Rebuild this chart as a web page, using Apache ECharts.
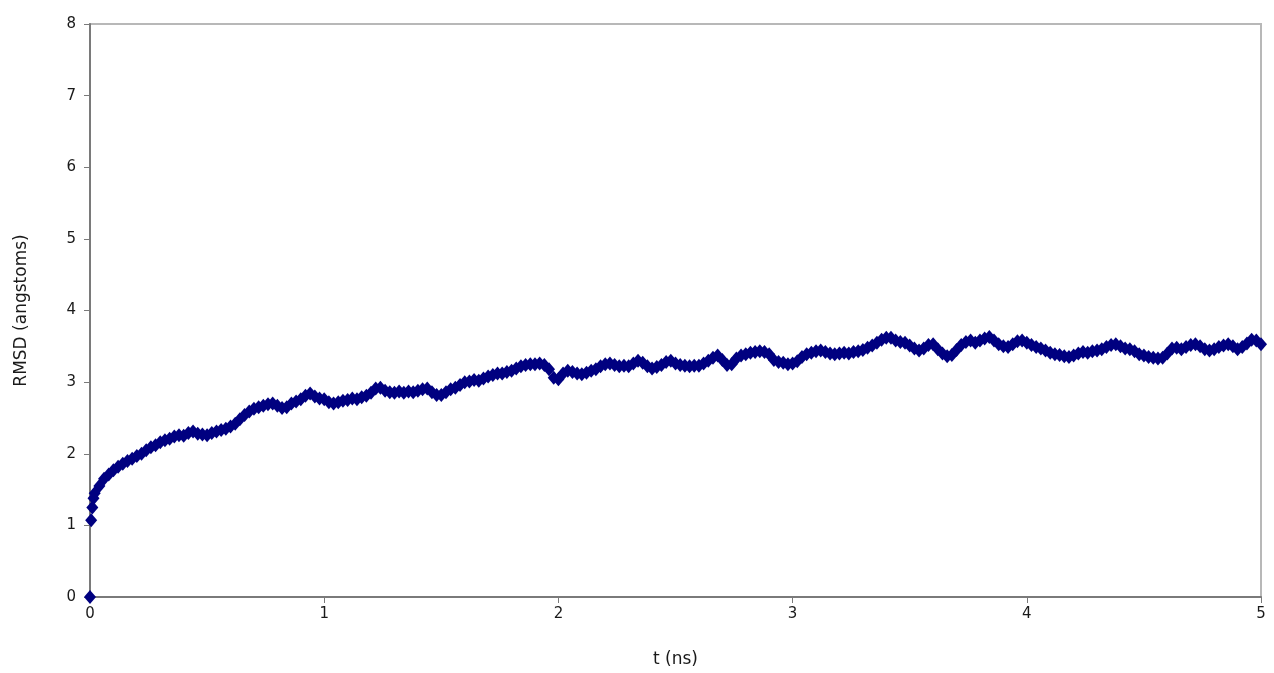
<!DOCTYPE html>
<html>
<head>
<meta charset="utf-8">
<script src="https://cdn.jsdelivr.net/npm/echarts@6/dist/echarts.min.js"></script>
<style>html,body{margin:0;padding:0;background:#fff;}#c{width:1274px;height:673px;}</style>
</head>
<body>
<div id="c"></div>
<script>
// early samples (ns, angstroms)
const earlyTimes = [0, 0.005, 0.01, 0.015];
const earlyRmsd = [0, 1.07, 1.25, 1.38];
// main samples every 0.02 ns from 0.02 to 5.00
const mainStart = 0.02;
const mainStep = 0.02;
const mainRmsd = [
  1.45,1.55,1.65,1.71,1.77,1.82,1.86,1.90,1.93,1.97,
  2.00,2.05,2.09,2.12,2.16,2.19,2.21,2.24,2.26,2.25,
  2.29,2.31,2.28,2.27,2.26,2.29,2.31,2.33,2.35,2.38,
  2.42,2.48,2.54,2.59,2.63,2.65,2.67,2.69,2.70,2.67,
  2.64,2.65,2.70,2.73,2.76,2.81,2.84,2.80,2.77,2.76,
  2.72,2.70,2.72,2.74,2.75,2.77,2.76,2.79,2.81,2.85,
  2.91,2.92,2.88,2.86,2.85,2.87,2.85,2.87,2.86,2.88,
  2.90,2.91,2.86,2.82,2.82,2.86,2.90,2.92,2.96,3.00,
  3.01,3.03,3.02,3.05,3.08,3.10,3.12,3.12,3.14,3.16,
  3.19,3.22,3.24,3.25,3.25,3.26,3.24,3.18,3.06,3.04,
  3.12,3.16,3.14,3.12,3.11,3.13,3.16,3.18,3.22,3.25,
  3.26,3.24,3.22,3.23,3.22,3.26,3.30,3.27,3.22,3.19,
  3.21,3.24,3.28,3.30,3.26,3.24,3.23,3.22,3.23,3.23,
  3.26,3.30,3.34,3.37,3.31,3.24,3.25,3.33,3.37,3.39,
  3.41,3.42,3.43,3.42,3.39,3.31,3.28,3.27,3.25,3.26,
  3.29,3.35,3.39,3.41,3.43,3.44,3.42,3.40,3.39,3.40,
  3.41,3.40,3.42,3.43,3.45,3.48,3.51,3.55,3.59,3.62,
  3.62,3.58,3.56,3.55,3.51,3.47,3.44,3.47,3.52,3.53,
  3.46,3.40,3.36,3.38,3.45,3.52,3.56,3.58,3.55,3.58,
  3.61,3.63,3.58,3.53,3.50,3.49,3.53,3.57,3.58,3.55,
  3.52,3.49,3.47,3.44,3.41,3.39,3.38,3.36,3.35,3.37,
  3.40,3.42,3.41,3.43,3.44,3.46,3.49,3.52,3.53,3.50,
  3.47,3.46,3.43,3.39,3.37,3.35,3.34,3.33,3.34,3.40,
  3.47,3.48,3.46,3.49,3.52,3.53,3.50,3.46,3.44,3.46,
  3.49,3.51,3.53,3.50,3.46,3.49,3.54,3.59,3.58,3.53
];
const xTicks = [0, 1, 2, 3, 4, 5];
const yTicks = [0, 1, 2, 3, 4, 5, 6, 7, 8];

const points = [];
earlyTimes.forEach((t, i) => points.push([t, earlyRmsd[i]]));
mainRmsd.forEach((v, i) => points.push([+(mainStart + i * mainStep).toFixed(3), v]));

const chart = echarts.init(document.getElementById('c'));
const txt = '#1a1a1a';
chart.setOption({
  animation: false,
  backgroundColor: '#ffffff',
  grid: { left: 90, right: 13, top: 24, bottom: 74, show: true, borderColor: '#b8b8b8', borderWidth: 2, backgroundColor: '#ffffff' },
  xAxis: {
    type: 'value', min: xTicks[0], max: xTicks[xTicks.length - 1], interval: 1,
    name: 't (ns)', nameLocation: 'middle', nameGap: 54,
    nameTextStyle: { color: txt, fontSize: 17, fontFamily: 'DejaVu Sans' },
    axisLine: { show: true, lineStyle: { color: '#7a7a7a', width: 2 } },
    axisTick: { show: true, length: 6, lineStyle: { color: '#7a7a7a', width: 1 } },
    axisLabel: { color: txt, fontSize: 15, fontFamily: 'DejaVu Sans', margin: 10 },
    splitLine: { show: false }
  },
  yAxis: {
    type: 'value', min: yTicks[0], max: yTicks[yTicks.length - 1], interval: 1,
    name: 'RMSD (angstoms)', nameLocation: 'middle', nameGap: 60, nameRotate: 90,
    nameTextStyle: { color: txt, fontSize: 17, fontFamily: 'DejaVu Sans' },
    axisLine: { show: true, lineStyle: { color: '#7a7a7a', width: 2 } },
    axisTick: { show: true, length: 6, lineStyle: { color: '#7a7a7a', width: 1 } },
    axisLabel: { color: txt, fontSize: 15, fontFamily: 'DejaVu Sans', margin: 14 },
    splitLine: { show: false }
  },
  series: [{
    type: 'scatter',
    data: points,
    symbol: 'diamond',
    symbolSize: [12, 14],
    itemStyle: { color: '#000080', opacity: 1 },
    clip: false
  }]
});
</script>
</body>
</html>
